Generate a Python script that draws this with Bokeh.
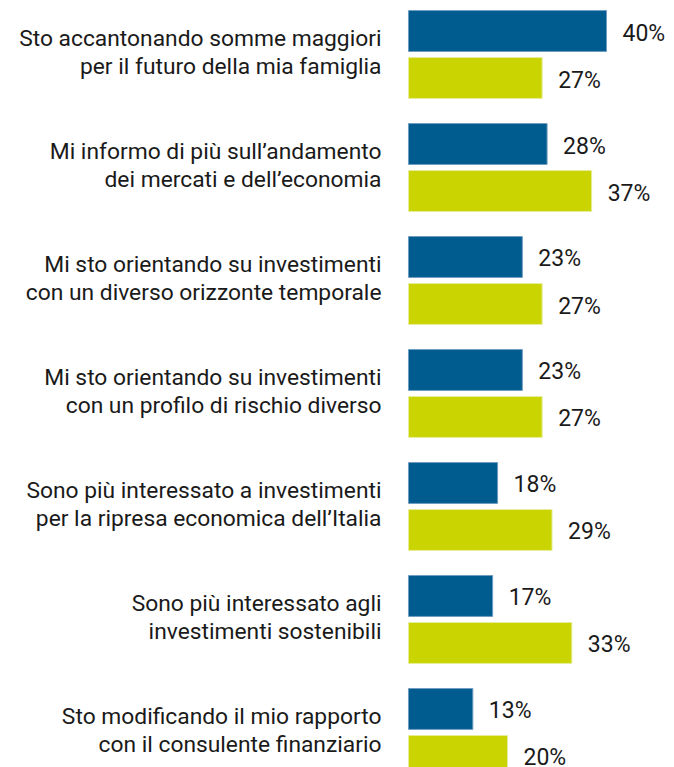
from bokeh.plotting import figure
from bokeh.models import ColumnDataSource, Range1d
from bokeh.core.properties import value
from bokeh.embed import file_html
from bokeh.resources import INLINE

categories = [
    "Sto accantonando somme maggiori\nper il futuro della mia famiglia",
    "Mi informo di più sull\u2019andamento\ndei mercati e dell\u2019economia",
    "Mi sto orientando su investimenti\ncon un diverso orizzonte temporale",
    "Mi sto orientando su investimenti\ncon un profilo di rischio diverso",
    "Sono più interessato a investimenti\nper la ripresa economica dell\u2019Italia",
    "Sono più interessato agli\ninvestimenti sostenibili",
    "Sto modificando il mio rapporto\ncon il consulente finanziario",
]
series_a = [40, 28, 23, 23, 18, 17, 13]
series_b = [27, 37, 27, 27, 29, 33, 20]

BLUE = "#005b8f"
GREEN = "#c9d400"
TEXT = "#1a1a1a"
FONT = "Roboto"

idx = list(range(len(categories)))
src_a = ColumnDataSource(dict(y=[i - 0.208 for i in idx], v=series_a,
                              lbl=[f"{v}%" for v in series_a]))
src_b = ColumnDataSource(dict(y=[i + 0.208 for i in idx], v=series_b,
                              lbl=[f"{v}%" for v in series_b]))
src_c = ColumnDataSource(dict(y=idx, t=categories))

p = figure(width=674, height=767, output_backend="svg", toolbar_location=None,
           x_range=Range1d(-82.42, 53.74), y_range=Range1d(6.31, -0.478),
           min_border=0, outline_line_color=None)
p.axis.visible = False
p.grid.visible = False
p.background_fill_color = "white"

p.hbar(y="y", left=0, right="v", height=0.362, source=src_a,
       fill_color=BLUE, line_color="#6f9cc0", line_width=1)
p.hbar(y="y", left=0, right="v", height=0.362, source=src_b,
       fill_color=GREEN, line_color="#e6ec99", line_width=1)

for s in (src_a, src_b):
    p.text(x="v", y="y", text="lbl", source=s, x_offset=16, y_offset=2,
           text_font=value(FONT), text_font_size="23px", text_color=TEXT,
           text_baseline="middle", text_align="left")

p.text(x=0, y="y", text="t", source=src_c, x_offset=-27, y_offset=-2,
       text_font=value(FONT), text_font_size="22.8px", text_color=TEXT,
       text_baseline="middle", text_align="right", text_line_height=1.05)

open("out.html", "w").write(file_html(p, INLINE))
